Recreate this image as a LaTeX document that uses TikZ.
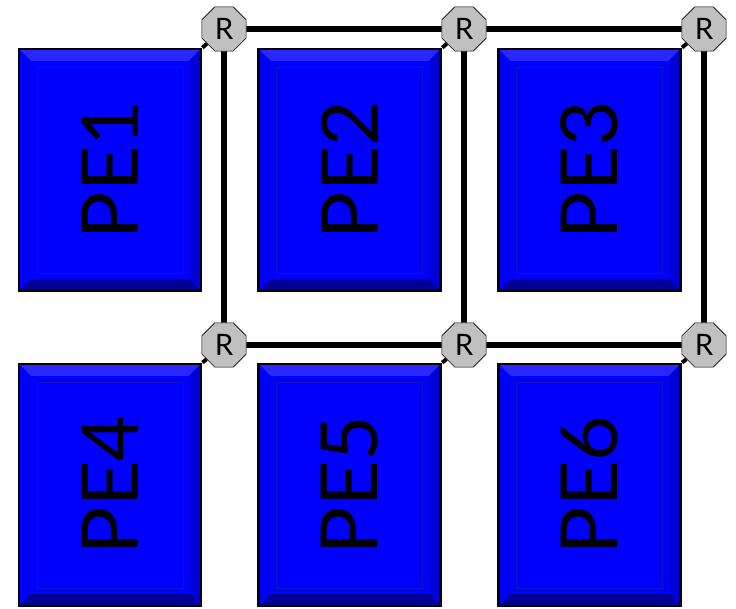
\documentclass[tikz,border=0pt]{standalone}
\usepackage{fontspec}
\setmainfont{Lato}
\usetikzlibrary{positioning,shapes.geometric}
\definecolor{RouterGray}{RGB}{192,192,192}
\definecolor{BevelTop}{RGB}{40,40,255}
\definecolor{BevelBottom}{RGB}{0,0,150}
\definecolor{BevelSide}{RGB}{0,0,215}
\definecolor{InnerLine}{RGB}{20,20,190}
\tikzset{
  pebox/.style={draw=black,line width=2pt,fill=blue,minimum width=4.55cm,
    minimum height=6.05cm,inner sep=0pt,font=\fontsize{56}{56}\selectfont,
    path picture={
      \fill[BevelTop] (path picture bounding box.north west)
        -- (path picture bounding box.north east)
        -- ([shift={(-0.3,-0.3)}]path picture bounding box.north east)
        -- ([shift={(0.3,-0.3)}]path picture bounding box.north west) -- cycle;
      \fill[BevelBottom] (path picture bounding box.south west)
        -- (path picture bounding box.south east)
        -- ([shift={(-0.3,0.3)}]path picture bounding box.south east)
        -- ([shift={(0.3,0.3)}]path picture bounding box.south west) -- cycle;
      \fill[BevelSide] (path picture bounding box.south east)
        -- (path picture bounding box.north east)
        -- ([shift={(-0.3,-0.3)}]path picture bounding box.north east)
        -- ([shift={(-0.3,0.3)}]path picture bounding box.south east) -- cycle;
      \draw[InnerLine,line width=0.6pt]
        ([shift={(0.45,0.45)}]path picture bounding box.south west)
        rectangle ([shift={(-0.45,-0.45)}]path picture bounding box.north east);
    }},
  router/.style={draw=black,thin,fill=RouterGray,regular polygon,
    regular polygon sides=8,minimum size=1.2cm,inner sep=0pt,
    font=\fontsize{21}{21}\selectfont},
  link/.style={line width=4.2pt,black},
  tap/.style={line width=2.8pt,black}
}

\begin{document}
\begin{tikzpicture}[node distance=1.375cm]
  \useasboundingbox (0,0) rectangle (18.4,15.225);
  % processing elements
  \node[pebox] (pe1) at (2.75,10.975) {\rotatebox{90}{PE1}};
  \node[pebox,right=of pe1] (pe2) {\rotatebox{90}{PE2}};
  \node[pebox,right=of pe2] (pe3) {\rotatebox{90}{PE3}};
  \node[pebox] (pe4) at (2.75,3.1) {\rotatebox{90}{PE4}};
  \node[pebox,right=of pe4] (pe5) {\rotatebox{90}{PE5}};
  \node[pebox,right=of pe5] (pe6) {\rotatebox{90}{PE6}};
  % routers
  \node[router] (r1) at (5.6,14.5) {R};
  \node[router] (r2) at (11.6,14.5) {R};
  \node[router] (r3) at (17.6,14.5) {R};
  \node[router] (r4) at (5.6,6.6) {R};
  \node[router] (r5) at (11.6,6.6) {R};
  \node[router] (r6) at (17.6,6.6) {R};
  % mesh
  \draw[link] (r1) -- (r2);
  \draw[link] (r2) -- (r3);
  \draw[link] (r4) -- (r5);
  \draw[link] (r5) -- (r6);
  \draw[link] (r1) -- (r4);
  \draw[link] (r2) -- (r5);
  \draw[link] (r3) -- (r6);
  % local ports
  \draw[tap] (r1) -- (pe1.north east);
  \draw[tap] (r2) -- (pe2.north east);
  \draw[tap] (r3) -- (pe3.north east);
  \draw[tap] (r4) -- (pe4.north east);
  \draw[tap] (r5) -- (pe5.north east);
  \draw[tap] (r6) -- (pe6.north east);
\end{tikzpicture}
\end{document}
